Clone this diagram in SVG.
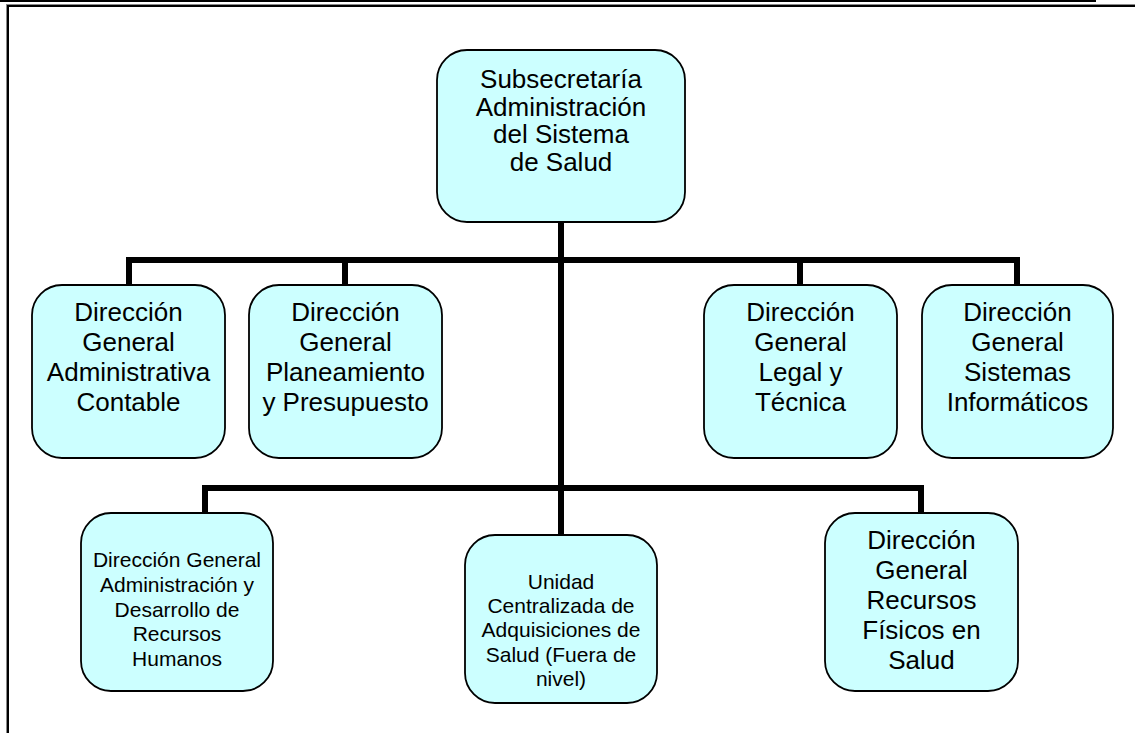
<svg xmlns="http://www.w3.org/2000/svg" width="1135" height="733" viewBox="0 0 1135 733">
  <style>
    .box { fill: #CCFFFF; stroke: #000; stroke-width: 1.8; }
    .lbl { font-family: "Liberation Sans", Arial, sans-serif; fill: #000; text-anchor: middle; }
    .big { font-size: 26px; }
    .small { font-size: 21px; }
    .wire { fill: none; stroke: #000; stroke-width: 6; stroke-linejoin: miter; }
  </style>
  <rect width="1135" height="733" fill="#fff"/>

  <!-- page frame -->
  <g id="frame">
    <rect x="0" y="0" width="1096" height="2" fill="#000"/>
    <rect x="6" y="4" width="1129" height="1" fill="#8a8a8a"/>
    <rect x="6" y="5" width="1129" height="2" fill="#000"/>
    <rect x="6" y="4" width="1" height="729" fill="#8a8a8a"/>
    <rect x="7" y="5" width="2" height="728" fill="#000"/>
  </g>

  <!-- connectors -->
  <g id="connectors">
    <path class="wire" d="M561,222 V535"/>
    <path class="wire" d="M129,285 V260 H1017 V285"/>
    <path class="wire" d="M345,260 V285"/>
    <path class="wire" d="M800,260 V285"/>
    <path class="wire" d="M205,513 V488 H921 V513"/>
  </g>

  <g id="subsecretaria">
    <rect class="box" x="437" y="50" width="248" height="172" rx="30"/>
    <text class="lbl big" x="561" y="88">Subsecretaría</text>
    <text class="lbl big" x="561" y="116">Administración</text>
    <text class="lbl big" x="561" y="143">del Sistema</text>
    <text class="lbl big" x="561" y="171">de Salud</text>
  </g>

  <g id="dg-administrativa-contable">
    <rect class="box" x="32" y="285" width="193" height="173" rx="30"/>
    <text class="lbl big" x="128.5" y="321">Dirección</text>
    <text class="lbl big" x="128.5" y="351">General</text>
    <text class="lbl big" x="128.5" y="381">Administrativa</text>
    <text class="lbl big" x="128.5" y="411">Contable</text>
  </g>

  <g id="dg-planeamiento">
    <rect class="box" x="249" y="285" width="193" height="173" rx="30"/>
    <text class="lbl big" x="345.5" y="321">Dirección</text>
    <text class="lbl big" x="345.5" y="351">General</text>
    <text class="lbl big" x="345.5" y="381">Planeamiento</text>
    <text class="lbl big" x="345.5" y="411">y Presupuesto</text>
  </g>

  <g id="dg-legal-tecnica">
    <rect class="box" x="704" y="285" width="193" height="173" rx="30"/>
    <text class="lbl big" x="800.5" y="321">Dirección</text>
    <text class="lbl big" x="800.5" y="351">General</text>
    <text class="lbl big" x="800.5" y="381">Legal y</text>
    <text class="lbl big" x="800.5" y="411">Técnica</text>
  </g>

  <g id="dg-sistemas">
    <rect class="box" x="922" y="285" width="191" height="173" rx="30"/>
    <text class="lbl big" x="1017.5" y="321">Dirección</text>
    <text class="lbl big" x="1017.5" y="351">General</text>
    <text class="lbl big" x="1017.5" y="381">Sistemas</text>
    <text class="lbl big" x="1017.5" y="411">Informáticos</text>
  </g>

  <g id="dg-recursos-humanos">
    <rect class="box" x="81" y="513" width="192" height="178" rx="30"/>
    <text class="lbl small" x="177" y="567">Dirección General</text>
    <text class="lbl small" x="177" y="592">Administración y</text>
    <text class="lbl small" x="177" y="617">Desarrollo de</text>
    <text class="lbl small" x="177" y="641">Recursos</text>
    <text class="lbl small" x="177" y="666">Humanos</text>
  </g>

  <g id="unidad-adquisiciones">
    <rect class="box" x="465" y="535" width="192" height="168" rx="30"/>
    <text class="lbl small" x="561" y="589">Unidad</text>
    <text class="lbl small" x="561" y="613">Centralizada de</text>
    <text class="lbl small" x="561" y="637">Adquisiciones de</text>
    <text class="lbl small" x="561" y="662">Salud (Fuera de</text>
    <text class="lbl small" x="561" y="686">nivel)</text>
  </g>

  <g id="dg-recursos-fisicos">
    <rect class="box" x="825" y="513" width="193" height="178" rx="30"/>
    <text class="lbl big" x="921.5" y="549">Dirección</text>
    <text class="lbl big" x="921.5" y="579">General</text>
    <text class="lbl big" x="921.5" y="609">Recursos</text>
    <text class="lbl big" x="921.5" y="639">Físicos en</text>
    <text class="lbl big" x="921.5" y="669">Salud</text>
  </g>
</svg>
